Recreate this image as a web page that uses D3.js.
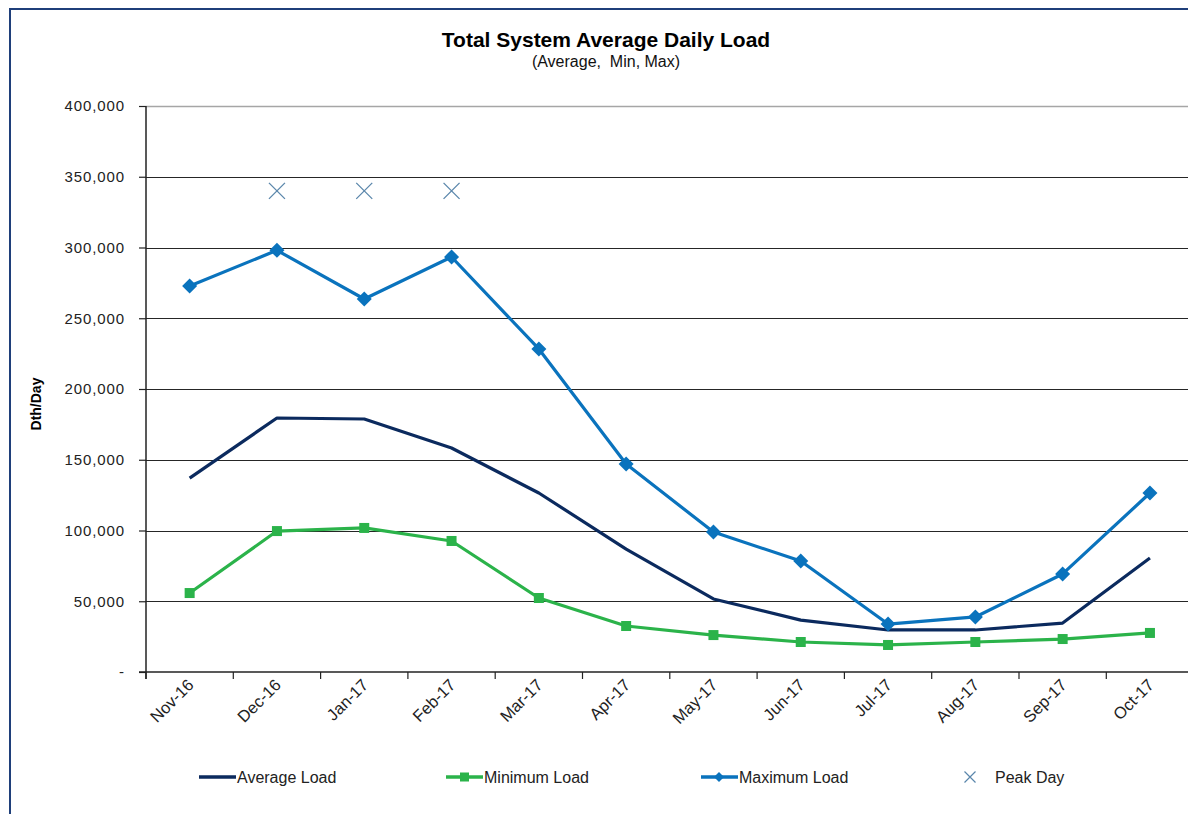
<!DOCTYPE html>
<html>
<head>
<meta charset="utf-8">
<script src="https://cdn.jsdelivr.net/npm/d3@7"></script>
<style>
  html, body { margin: 0; padding: 0; background: #fff; }
  svg { display: block; font-family: "Liberation Sans", Arial, sans-serif; }
</style>
</head>
<body>
<svg id="chart" width="1188" height="814"></svg>
<script>
const months = ["Nov-16","Dec-16","Jan-17","Feb-17","Mar-17","Apr-17","May-17","Jun-17","Jul-17","Aug-17","Sep-17","Oct-17"];
const averageLoad = [137000, 179500, 178800, 158300, 126500, 86900, 51600, 36700, 29700, 29700, 34600, 80600];
const minimumLoad = [55800, 99600, 101800, 92600, 52300, 32500, 26100, 21200, 19100, 21200, 23300, 27600];
const maximumLoad = [272800, 298000, 263600, 293300, 228300, 147000, 98900, 78400, 33900, 38900, 69300, 126500];
const peakDay = [null, 340000, 340000, 340000, null, null, null, null, null, null, null, null];
const yTicks = [0, 50000, 100000, 150000, 200000, 250000, 300000, 350000, 400000];

(function () {
const svg = d3.select("#chart");
const W = 1188, H = 814;
const pLeft = 146, pTop = 106, pBottom = 672, step = 87.3;

// frame
svg.append("path")
  .attr("d", `M10,${H} L10,9 L${W},9`)
  .attr("fill", "none").attr("stroke", "#1f3f7a").attr("stroke-width", 2);

const x = d3.scaleBand().domain(months).range([pLeft, pLeft + step * months.length]);
const cx = m => x(m) + x.bandwidth() / 2;
const y = d3.scaleLinear().domain([0, 400000]).range([pBottom, pTop]);

// gridlines
svg.append("g").selectAll("line").data(yTicks.filter(t => t > 0)).join("line")
  .attr("x1", pLeft).attr("x2", W)
  .attr("y1", d => Math.round(y(d)) + 0.5).attr("y2", d => Math.round(y(d)) + 0.5)
  .attr("stroke", d => d === 400000 ? "#a6a6a6" : "#262626")
  .attr("stroke-width", d => d === 400000 ? 1.5 : 1.2);

// y axis
const yAxis = d3.axisLeft(y).tickValues(yTicks).tickSize(7).tickPadding(14)
  .tickFormat(d => d === 0 ? "-" : d3.format(",")(d));
const gy = svg.append("g").attr("transform", `translate(${pLeft},0)`).call(yAxis);
gy.select(".domain").attr("stroke", "#222").attr("stroke-width", 1.5)
  .attr("d", `M0,${pTop}V${pBottom + 7}`);
gy.selectAll(".tick line").attr("stroke", "#222").attr("stroke-width", 1.2);
gy.selectAll(".tick text").attr("fill", "#222").style("font-size", "15px")
  .style("letter-spacing", "0.9px").style("font-family", "'Liberation Sans', Arial, sans-serif");

// x axis
const xAxis = d3.axisBottom(x).tickSize(7).tickFormat("");
const gx = svg.append("g").attr("transform", `translate(0,${pBottom})`).call(xAxis);
gx.select(".domain").attr("stroke", "#222").attr("stroke-width", 1.5)
  .attr("d", `M${pLeft - 7},0H${W}`);
gx.selectAll(".tick").attr("transform", d => `translate(${x(d)},0)`);
gx.selectAll(".tick line").attr("stroke", "#222").attr("stroke-width", 1.2);

svg.append("g").selectAll("text").data(months).join("text")
  .attr("transform", d => `translate(${cx(d) + 5},${pBottom + 14}) rotate(-45)`)
  .attr("text-anchor", "end")
  .attr("fill", "#222")
  .style("font-size", "16.5px")
  .text(d => d);

// lines
const lineGen = d3.line().defined(d => d.v != null).x(d => cx(d.m)).y(d => y(d.v));
const toPts = arr => arr.map((v, i) => ({ m: months[i], v }));

const cAvg = "#0b2a5e", cMin = "#2bb34a", cMax = "#0a73bd", cPeak = "#5a86ab";

svg.append("path").datum(toPts(minimumLoad)).attr("d", lineGen)
  .attr("fill", "none").attr("stroke", cMin).attr("stroke-width", 3.2).attr("stroke-linejoin", "round");
svg.append("g").selectAll("rect").data(toPts(minimumLoad)).join("rect")
  .attr("x", d => cx(d.m) - 5).attr("y", d => y(d.v) - 5)
  .attr("width", 10).attr("height", 10).attr("fill", cMin);

svg.append("path").datum(toPts(averageLoad)).attr("d", lineGen)
  .attr("fill", "none").attr("stroke", cAvg).attr("stroke-width", 3.2).attr("stroke-linejoin", "round");

svg.append("path").datum(toPts(maximumLoad)).attr("d", lineGen)
  .attr("fill", "none").attr("stroke", cMax).attr("stroke-width", 3.2).attr("stroke-linejoin", "round");
svg.append("g").selectAll("path").data(toPts(maximumLoad)).join("path")
  .attr("d", d => { const px = cx(d.m), py = y(d.v), r = 7.5; return `M${px},${py - r}L${px + r},${py}L${px},${py + r}L${px - r},${py}Z`; })
  .attr("fill", cMax);

// peak day X markers
svg.append("g").selectAll("path").data(toPts(peakDay).filter(d => d.v != null)).join("path")
  .attr("d", d => { const px = cx(d.m), py = y(d.v), r = 8; return `M${px - r},${py - r}L${px + r},${py + r}M${px + r},${py - r}L${px - r},${py + r}`; })
  .attr("stroke", cPeak).attr("stroke-width", 1.3).attr("fill", "none");

// titles
svg.append("text").attr("x", 606).attr("y", 47).attr("text-anchor", "middle")
  .style("font-size", "21px").style("font-weight", "bold").attr("fill", "#000")
  .text("Total System Average Daily Load");
svg.append("text").attr("x", 606).attr("y", 67).attr("text-anchor", "middle")
  .style("font-size", "16px").attr("fill", "#111").style("white-space", "pre")
  .text("(Average,  Min, Max)");

svg.append("text").attr("transform", `translate(41,404) rotate(-90)`).attr("text-anchor", "middle")
  .style("font-size", "14px").style("font-weight", "bold").attr("fill", "#000")
  .text("Dth/Day");

// legend
const ly = 777;
const legend = svg.append("g");
function legItem(x0, color, label, marker) {
  if (marker === "x") {
    const r = 5.5, px = x0 + 22;
    legend.append("path").attr("d", `M${px - r},${ly - r}L${px + r},${ly + r}M${px + r},${ly - r}L${px - r},${ly + r}`)
      .attr("stroke", color).attr("stroke-width", 1.2);
    legend.append("text").attr("x", x0 + 47).attr("y", ly + 6).style("font-size", "16px").attr("fill", "#222").text(label);
    return;
  }
  legend.append("line").attr("x1", x0).attr("x2", x0 + 37).attr("y1", ly).attr("y2", ly)
    .attr("stroke", color).attr("stroke-width", 3.5);
  if (marker === "square") legend.append("rect").attr("x", x0 + 14).attr("y", ly - 4.5).attr("width", 9).attr("height", 9).attr("fill", color);
  if (marker === "diamond") legend.append("path").attr("d", `M${x0 + 18},${ly - 5}L${x0 + 23},${ly}L${x0 + 18},${ly + 5}L${x0 + 13},${ly}Z`).attr("fill", color);
  legend.append("text").attr("x", x0 + 38).attr("y", ly + 6).style("font-size", "16px").attr("fill", "#222").text(label);
}
legItem(199, cAvg, "Average Load", null);
legItem(446, cMin, "Minimum Load", "square");
legItem(701, cMax, "Maximum Load", "diamond");
legItem(948, cPeak, "Peak Day", "x");
})();
</script>
</body>
</html>
